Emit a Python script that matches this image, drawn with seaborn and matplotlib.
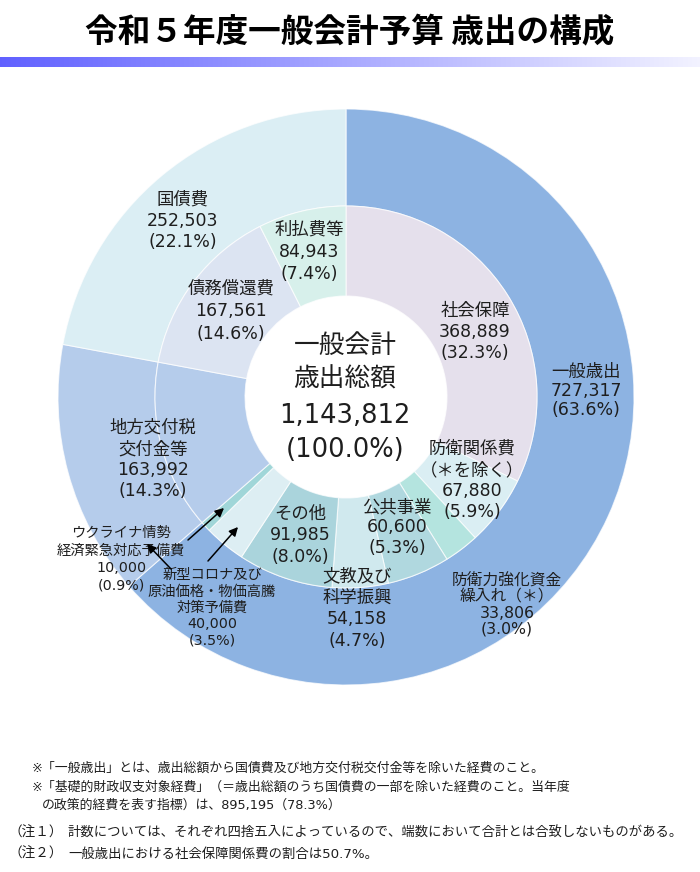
import matplotlib
matplotlib.use("Agg")
import matplotlib.pyplot as plt
import numpy as np
import seaborn as sns

sns.set_theme(style="white")
plt.rcParams['font.family'] = ['DejaVu Sans', 'Noto Sans CJK JP']

# ---------------- data ----------------
title = "令和５年度一般会計予算 歳出の構成"

outer_labels = ["一般歳出", "地方交付税\n交付金等", "国債費"]
outer_values = [727317, 163992, 252503]
outer_pcts = [63.6, 14.3, 22.1]
outer_colors = ["#8DB3E2", "#B5CCEB", "#DBEEF4"]

inner_labels = ["社会保障", "防衛関係費\n（＊を除く）", "防衛力強化資金\n繰入れ（＊）", "公共事業",
                "文教及び\n科学振興", "その他", "新型コロナ及び\n原油価格・物価高騰\n対策予備費",
                "ウクライナ情勢\n経済緊急対応予備費", "地方交付税\n交付金等", "債務償還費", "利払費等"]
inner_values = [368889, 67880, 33806, 60600, 54158, 91985, 40000, 10000, 163992, 167561, 84943]
inner_pcts = [32.3, 5.9, 3.0, 5.3, 4.7, 8.0, 3.5, 0.9, 14.3, 14.6, 7.4]
inner_colors = ["#E5E0EC", "#DAEEF3", "#B4E4DF", "#B0D8DF", "#D0E9EE", "#AAD4DC",
                "#DDEEF3", "#A0D6D8", "#B5CCEB", "#DCE4F2", "#D7F0EB"]

center_lines = ["一般会計", "歳出総額", "1,143,812", "(100.0%)"]

notes = ["※「一般歳出」とは、歳出総額から国債費及び地方交付税交付金等を除いた経費のこと。",
         "※「基礎的財政収支対象経費」（＝歳出総額のうち国債費の一部を除いた経費のこと。当年度",
         "の政策的経費を表す指標）は、895,195（78.3%）"]
remarks = [("（注１）", "計数については、それぞれ四捨五入によっているので、端数において合計とは合致しないものがある。"),
           ("（注２）", "一般歳出における社会保障関係費の割合は50.7%。")]

# ---------------- figure ----------------
W, H = 700, 872
fig = plt.figure(figsize=(W / 100, H / 100), dpi=100)
ax = fig.add_axes([0, 0, 1, 1])

CX, CY = 346, H - 397
R_OUT, R_MID, R_IN = 288, 191, 101

ax.pie(outer_values, radius=R_OUT, center=(CX, CY), startangle=90, counterclock=False,
       colors=outer_colors,
       wedgeprops=dict(width=R_OUT - R_MID, edgecolor=(1, 1, 1, 0.7), linewidth=0.8))
ax.pie(inner_values, radius=R_MID, center=(CX, CY), startangle=90, counterclock=False,
       colors=inner_colors,
       wedgeprops=dict(width=R_MID - R_IN, edgecolor=(1, 1, 1, 0.7), linewidth=0.8))
ax.set_xlim(0, W)
ax.set_ylim(0, H)
ax.set_aspect('equal')
ax.axis('off')

TXT = '#1e1e1e'


def block(x, y0, lines, size, step):
    for i, s in enumerate(lines):
        ax.text(x, H - (y0 + i * step), s, ha='center', va='center', fontsize=size, color=TXT)


outer_pos = {
    "一般歳出": (586, 372, 12.5, 19),
    "地方交付税\n交付金等": (153, 428, 12.5, 21),
    "国債費": (183, 200, 12.5, 21),
}
inner_pos = {
    "社会保障": (475, 311, 12.5, 21),
    "防衛関係費\n（＊を除く）": (472, 449, 12.5, 21),
    "防衛力強化資金\n繰入れ（＊）": (507, 581, 11.3, 16),
    "公共事業": (397, 507, 12.5, 20.5),
    "文教及び\n科学振興": (357, 576, 12.5, 21.5),
    "その他": (300, 514, 12.5, 21.5),
    "新型コロナ及び\n原油価格・物価高騰\n対策予備費": (212, 575, 10.3, 16.5),
    "ウクライナ情勢\n経済緊急対応予備費": (121, 533, 10.3, 17.5),
    "債務償還費": (231, 289, 12.5, 22.5),
    "利払費等": (309, 230, 12.5, 22),
}

for lab, v, p in zip(outer_labels, outer_values, outer_pcts):
    x, y0, sz, st = outer_pos[lab]
    block(x, y0, lab.split("\n") + [f"{v:,}", f"({p:.1f}%)"], sz, st)
for lab, v, p in zip(inner_labels, inner_values, inner_pcts):
    if lab not in inner_pos:
        continue
    x, y0, sz, st = inner_pos[lab]
    block(x, y0, lab.split("\n") + [f"{v:,}", f"({p:.1f}%)"], sz, st)

# centre
for s, y in zip(center_lines, [346, 380, 416, 450]):
    ax.text(345, H - y, s, ha='center', va='center', fontsize=18.5, color=TXT)

# arrows
arrows = [((188, 540), (224, 508)), ((208, 561), (238, 527)), ((171, 569), (147, 544))]
for (x0, y0), (x1, y1) in arrows:
    ax.annotate("", xy=(x1, H - y1), xytext=(x0, H - y0),
                arrowprops=dict(arrowstyle='-|>', color='black', lw=1.1, mutation_scale=13,
                                shrinkA=0, shrinkB=0))

# title
fig.text(350 / W, 1 - 33 / H, title, ha='center', va='center', fontsize=23.5,
         fontweight='bold', family=['Noto Sans CJK JP', 'DejaVu Sans'], color='black')

# gradient bar
gax = fig.add_axes([0, 1 - 67 / H, 1, 10 / H])
c0 = np.array([0.38, 0.38, 1.0])
c1 = np.array([0.95, 0.95, 1.0])
t = np.linspace(0, 1, 256)[None, :, None]
grad = c0 + (c1 - c0) * t
gax.imshow(grad, aspect='auto', extent=[0, 1, 0, 1])
gax.axis('off')

# notes
ax.text(32, H - 768, notes[0], ha='left', va='center', fontsize=9.3, color=TXT)
ax.text(32, H - 787, notes[1], ha='left', va='center', fontsize=9.3, color=TXT)
ax.text(42, H - 805, notes[2], ha='left', va='center', fontsize=9.3, color=TXT)
for (tag, body), y in zip(remarks, [833, 854]):
    ax.text(8, H - y, tag, ha='left', va='center', fontsize=9.8, color=TXT)
    ax.text(68, H - y, body, ha='left', va='center', fontsize=9.6, color=TXT)

fig.savefig("out.png", dpi=100)
